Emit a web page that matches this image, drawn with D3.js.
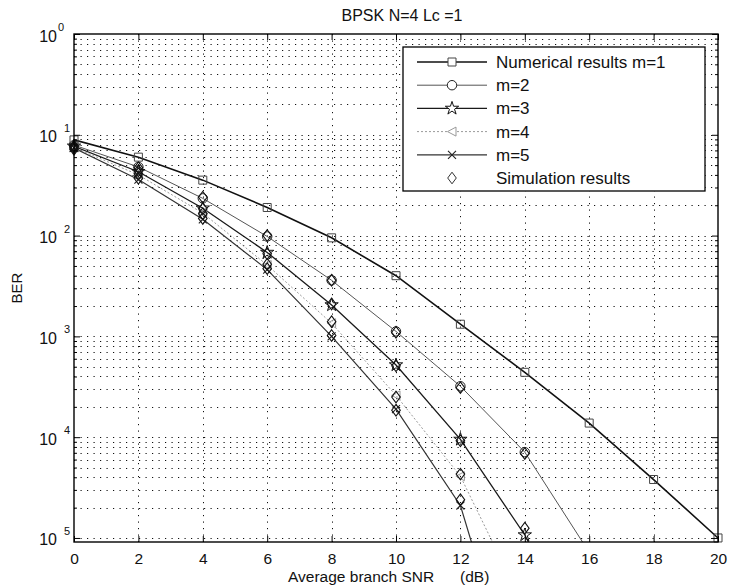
<!DOCTYPE html>
<html>
<head>
<meta charset="utf-8">
<script src="https://cdn.jsdelivr.net/npm/d3@7"></script>
<style>
  html, body { margin: 0; padding: 0; background: #fff; }
  svg { display: block; font-family: "Liberation Sans", Arial, Helvetica, sans-serif; }
</style>
</head>
<body>
<svg id="chart" width="729" height="588"></svg>
<script>
// ---- data -------------------------------------------------------------
const snr = [0, 2, 4, 6, 8, 10, 12, 14, 16, 18, 20];

// numerical BER curves (null once the curve has left the plotted range)
const berM1 = [0.089, 0.060, 0.0355, 0.019, 0.0095, 0.0040, 0.00132, 4.4e-4, 1.38e-4, 3.8e-5, 1.0e-5];
const berM2 = [0.079, 0.048, 0.0234, 0.0098, 0.0036, 0.00112, 3.2e-4, 7.1e-5, 7.2e-6, null, null];
const berM3 = [0.077, 0.043, 0.0187, 0.0068, 0.00205, 5.2e-4, 9.5e-5, 1.07e-5, 6.3e-7, null, null];
const berM4 = [0.075, 0.040, 0.0167, 0.0051, 0.00135, 2.6e-4, 4.1e-5, 2.0e-6, null, null, null];
const berM5 = [0.074, 0.036, 0.0145, 0.0046, 0.0010, 1.9e-4, 2.1e-5, 1.6e-7, null, null, null];

// simulated BER points
const simM2 = [0.078, 0.047, 0.0240, 0.0100, 0.0036, 0.00110, 3.1e-4, 6.9e-5, null, null, null];
const simM3 = [0.076, 0.044, 0.0185, 0.0066, 0.0021, 5.1e-4, 9.2e-5, 1.25e-5, null, null, null];
const simM4 = [0.074, 0.041, 0.0165, 0.0052, 0.0014, 2.5e-4, 4.3e-5, null, null, null, null];
const simM5 = [0.072, 0.037, 0.0148, 0.0047, 0.00102, 1.85e-4, 2.4e-5, null, null, null, null];

const xTicks = [0, 2, 4, 6, 8, 10, 12, 14, 16, 18, 20];
const yDecades = [1e0, 1e-1, 1e-2, 1e-3, 1e-4, 1e-5];
const yExponentText = ["0", "1", "2", "3", "4", "5"];
const legendLabels = ["Numerical results m=1", "m=2", "m=3", "m=4", "m=5", "Simulation results"];

const titleText = "BPSK N=4 Lc =1";
const xLabelText = "Average branch SNR      (dB)";
const yLabelText = "BER";

// ---- layout -----------------------------------------------------------
const svg = d3.select("#chart");
const plotLeft = 74, plotRight = 718, plotTop = 34, plotBottom = 542;

const x = d3.scaleLinear().domain([0, 20]).range([plotLeft, plotRight]);
const y = d3.scaleLog().domain([Math.pow(10, -5.04), 1]).range([plotBottom, plotTop]);

svg.append("rect").attr("width", 729).attr("height", 588).attr("fill", "#fff");

// ---- grid ---------------------------------------------------------------
const gridVals = [];
for (let e = -5; e <= -1; e++) for (let k = 1; k <= 9; k++) gridVals.push(k * Math.pow(10, e));
const grid = svg.append("g")
  .attr("stroke", "#111").attr("stroke-width", 1).attr("stroke-dasharray", "1.2,5.3").attr("fill", "none");
grid.selectAll("line.h").data(gridVals).join("line")
  .attr("class", "h")
  .attr("x1", plotLeft).attr("x2", plotRight)
  .attr("y1", d => Math.round(y(d)) + 0.5).attr("y2", d => Math.round(y(d)) + 0.5);
grid.selectAll("line.v").data(xTicks.slice(1, -1)).join("line")
  .attr("class", "v")
  .attr("y1", plotTop).attr("y2", plotBottom)
  .attr("x1", d => Math.round(x(d)) + 0.5).attr("x2", d => Math.round(x(d)) + 0.5);

// ---- curves -------------------------------------------------------------
svg.append("clipPath").attr("id", "plotClip")
  .append("rect").attr("x", plotLeft).attr("y", plotTop)
  .attr("width", plotRight - plotLeft).attr("height", plotBottom - plotTop);

const symbolPaths = {
  square: "M-4,-4H4V4H-4Z",
  circle: d3.symbol(d3.symbolCircle, 70)(),
  star: d3.symbol(d3.symbolStar, 55)(),
  triLeft: "M-4.5,0L4,-4.5L4,4.5Z",
  cross: "M-4,-4L4,4M-4,4L4,-4",
  diamond: "M0,-5.8L4.3,0L0,5.8L-4.3,0Z"
};

const series = [
  { values: berM1, stroke: "#111", width: 1.6, dash: null, marker: "square", mStroke: "#444", mWidth: 1 },
  { values: berM2, stroke: "#555", width: 1.0, dash: null, marker: "circle", mStroke: "#222", mWidth: 1 },
  { values: berM3, stroke: "#1a1a1a", width: 1.3, dash: null, marker: "star", mStroke: "#111", mWidth: 1 },
  { values: berM4, stroke: "#9a9a9a", width: 1.0, dash: "2,2", marker: "triLeft", mStroke: "#999", mWidth: 1 },
  { values: berM5, stroke: "#333", width: 1.2, dash: null, marker: "cross", mStroke: "#222", mWidth: 1.1 }
];
const simSeries = [simM2, simM3, simM4, simM5];

const line = d3.line()
  .defined(d => d.v != null)
  .x(d => x(d.s))
  .y(d => y(d.v));

const curves = svg.append("g").attr("clip-path", "url(#plotClip)");
series.forEach(sr => {
  const pts = snr.map((s, i) => ({ s, v: sr.values[i] }));
  curves.append("path").datum(pts)
    .attr("d", line)
    .attr("fill", "none")
    .attr("stroke", sr.stroke)
    .attr("stroke-width", sr.width)
    .attr("stroke-dasharray", sr.dash);
});

const inRange = v => v != null && v >= y.domain()[0] && v <= 1;

series.forEach(sr => {
  const pts = snr.map((s, i) => ({ s, v: sr.values[i] })).filter(d => inRange(d.v));
  svg.append("g").selectAll("path").data(pts).join("path")
    .attr("d", symbolPaths[sr.marker])
    .attr("transform", d => `translate(${x(d.s)},${y(d.v)})`)
    .attr("fill", "none")
    .attr("stroke", sr.mStroke)
    .attr("stroke-width", sr.mWidth);
});

simSeries.forEach(vals => {
  const pts = snr.map((s, i) => ({ s, v: vals[i] })).filter(d => inRange(d.v));
  svg.append("g").selectAll("path").data(pts).join("path")
    .attr("d", symbolPaths.diamond)
    .attr("transform", d => `translate(${x(d.s)},${y(d.v)})`)
    .attr("fill", "none")
    .attr("stroke", "#111")
    .attr("stroke-width", 1.1);
});

// ---- axes -------------------------------------------------------------
svg.append("rect")
  .attr("x", plotLeft).attr("y", plotTop)
  .attr("width", plotRight - plotLeft).attr("height", plotBottom - plotTop)
  .attr("fill", "none").attr("stroke", "#000").attr("stroke-width", 1.4);

const xAxis = svg.append("g").attr("transform", `translate(0,${plotBottom})`)
  .call(d3.axisBottom(x).tickValues(xTicks).tickFormat(d3.format("d")).tickSize(-6).tickPadding(10.5));
xAxis.select(".domain").remove();
xAxis.selectAll("line").attr("stroke", "#000");
xAxis.selectAll("text").attr("font-size", 15.5).attr("fill", "#111")
  .attr("font-family", "'Liberation Sans', Arial, sans-serif");

const xAxisTop = svg.append("g").attr("transform", `translate(0,${plotTop})`)
  .call(d3.axisTop(x).tickValues(xTicks).tickFormat("").tickSize(-6));
xAxisTop.select(".domain").remove();

const minorVals = gridVals.filter(v => yDecades.indexOf(v) < 0);
[[plotLeft, d3.axisLeft], [plotRight, d3.axisRight]].forEach(([pos, axisFn]) => {
  const gMaj = svg.append("g").attr("transform", `translate(${pos},0)`)
    .call(axisFn(y).tickValues(yDecades).tickFormat("").tickSize(-6));
  gMaj.select(".domain").remove();
  const gMin = svg.append("g").attr("transform", `translate(${pos},0)`)
    .call(axisFn(y).tickValues(minorVals).tickFormat("").tickSize(-3));
  gMin.select(".domain").remove();
});

// y tick labels: base 10 with a raised exponent
const yLab = svg.append("g").attr("fill", "#111");
yDecades.forEach((d, i) => {
  const yy = y(d);
  yLab.append("text")
    .attr("x", plotLeft - 17).attr("y", yy + 7.5)
    .attr("text-anchor", "end").attr("font-size", 16)
    .text("10");
  yLab.append("text")
    .attr("x", i === 0 ? plotLeft - 16 : plotLeft - 10).attr("y", yy - 3)
    .attr("font-size", 11)
    .text(yExponentText[i]);
});

// ---- titles -----------------------------------------------------------
svg.append("text")
  .attr("x", 402).attr("y", 21)
  .attr("text-anchor", "middle").attr("font-size", 16).attr("fill", "#111")
  .text(titleText);

svg.append("text")
  .attr("x", 288).attr("y", 581.5)
  .attr("font-size", 15.5).attr("fill", "#111")
  .attr("xml:space", "preserve").style("white-space", "pre")
  .text(xLabelText);

svg.append("text")
  .attr("transform", `translate(22,${(plotTop + plotBottom) / 2}) rotate(-90)`)
  .attr("text-anchor", "middle").attr("font-size", 15).attr("fill", "#111")
  .text(yLabelText);

// ---- legend -----------------------------------------------------------
const lg = svg.append("g");
lg.append("rect")
  .attr("x", 403).attr("y", 47).attr("width", 302).attr("height", 144)
  .attr("fill", "#fff").attr("stroke", "#000").attr("stroke-width", 1.3);

const rowY = i => 62 + i * 23.2;
legendLabels.forEach((label, i) => {
  const cy = rowY(i);
  if (i < series.length) {
    const sr = series[i];
    lg.append("line")
      .attr("x1", 417).attr("x2", 487).attr("y1", cy).attr("y2", cy)
      .attr("stroke", sr.stroke).attr("stroke-width", sr.width)
      .attr("stroke-dasharray", sr.dash);
    lg.append("path")
      .attr("d", symbolPaths[sr.marker])
      .attr("transform", `translate(452,${cy})`)
      .attr("fill", "#fff").attr("stroke", sr.mStroke).attr("stroke-width", sr.mWidth);
  } else {
    lg.append("path")
      .attr("d", symbolPaths.diamond)
      .attr("transform", `translate(452,${cy})`)
      .attr("fill", "none").attr("stroke", "#333").attr("stroke-width", 1);
  }
  lg.append("text")
    .attr("x", 496).attr("y", cy + 6)
    .attr("font-size", 17).attr("fill", "#111")
    .text(label);
});
</script>
</body>
</html>
